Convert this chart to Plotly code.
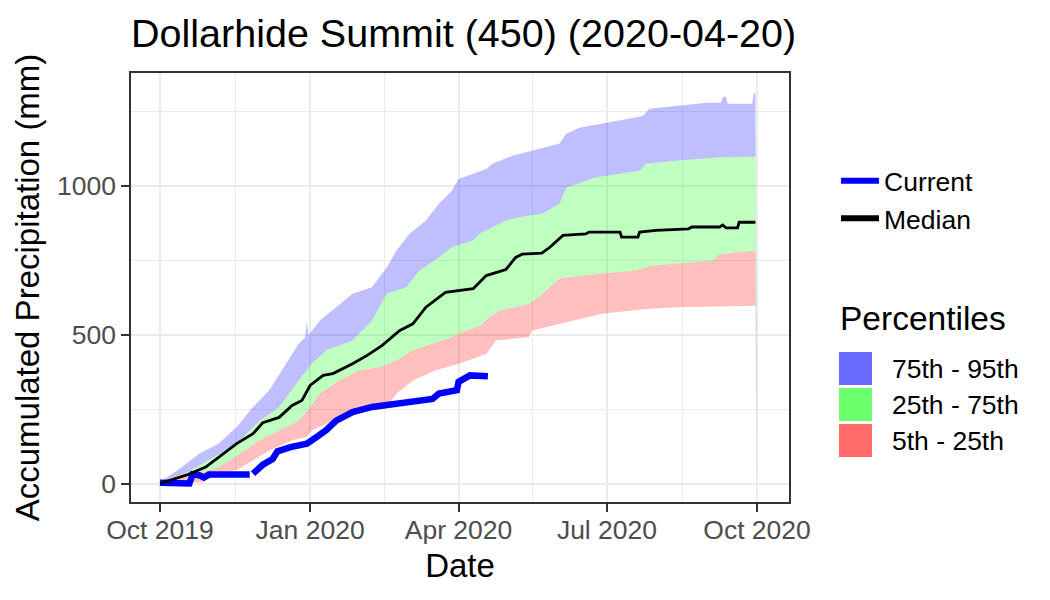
import plotly.graph_objects as go

# values (accumulated precipitation, mm)
p95_dates = ["2019-10-01", "2019-10-13", "2019-10-25", "2019-11-06", "2019-11-17", "2019-11-27",
             "2019-12-07", "2019-12-17", "2019-12-25", "2019-12-29", "2019-12-30", "2019-12-31",
             "2020-01-01", "2020-01-07", "2020-01-17", "2020-01-27", "2020-02-08", "2020-02-17",
             "2020-02-23", "2020-03-02", "2020-03-12", "2020-03-20", "2020-03-28", "2020-04-01",
             "2020-04-18", "2020-04-22", "2020-05-04", "2020-05-16", "2020-06-02", "2020-06-06",
             "2020-06-14", "2020-07-01", "2020-07-23", "2020-07-27", "2020-08-14", "2020-08-31",
             "2020-09-09", "2020-09-10", "2020-09-12", "2020-09-13", "2020-09-28", "2020-09-29",
             "2020-09-30", "2020-10-01"]
p95_vals = [5, 50, 100, 134, 190, 257, 313, 402, 469, 490, 545, 497, 504, 547, 592, 637, 659, 726,
            782, 838, 883, 939, 983, 1022, 1056, 1074, 1100, 1117, 1141, 1174, 1194, 1211, 1234,
            1258, 1268, 1278, 1278, 1298, 1298, 1275, 1275, 1308, 1310, 5]

p75_dates = ["2019-10-01", "2019-10-17", "2019-11-02", "2019-11-17", "2019-12-01", "2019-12-13",
             "2019-12-25", "2020-01-02", "2020-01-11", "2020-01-27", "2020-02-08", "2020-02-17",
             "2020-02-29", "2020-03-08", "2020-03-20", "2020-03-28", "2020-04-10", "2020-04-14",
             "2020-04-22", "2020-04-30", "2020-05-13", "2020-05-22", "2020-06-02", "2020-06-06",
             "2020-06-24", "2020-07-21", "2020-07-25", "2020-08-14", "2020-09-08", "2020-09-30",
             "2020-10-01"]
p75_vals = [3, 35, 85, 134, 211, 256, 346, 402, 447, 480, 547, 637, 659, 715, 759, 793, 816, 838,
            860, 883, 899, 905, 939, 993, 1027, 1050, 1073, 1084, 1095, 1097, 3]

p25_dates = ["2019-10-01", "2019-10-21", "2019-11-06", "2019-11-19", "2019-12-01", "2019-12-13",
             "2019-12-25", "2020-01-01", "2020-01-07", "2020-01-19", "2020-01-31", "2020-02-13",
             "2020-02-23", "2020-03-04", "2020-03-16", "2020-03-28", "2020-04-01", "2020-04-14",
             "2020-04-20", "2020-04-26", "2020-05-14", "2020-05-20", "2020-06-02", "2020-06-26",
             "2020-07-19", "2020-07-29", "2020-09-04", "2020-09-08", "2020-09-30", "2020-10-01"]
p25_vals = [0, 28, 55, 100, 145, 178, 211, 256, 302, 346, 380, 391, 413, 447, 469, 491, 503, 530,
            558, 580, 603, 625, 688, 704, 715, 732, 749, 770, 782, 0]

p5_dates = ["2019-10-01", "2019-10-27", "2019-11-06", "2019-11-17", "2019-11-27", "2019-12-07",
            "2019-12-21", "2019-12-30", "2020-01-02", "2020-01-15", "2020-01-27", "2020-02-08",
            "2020-02-17", "2020-02-23", "2020-03-04", "2020-03-18", "2020-04-01", "2020-04-18",
            "2020-04-24", "2020-05-14", "2020-05-16", "2020-06-02", "2020-06-28", "2020-07-25",
            "2020-08-14", "2020-09-30", "2020-10-01"]
p5_vals = [0, 4, 35, 45, 78, 111, 145, 156, 178, 211, 235, 246, 256, 302, 346, 380, 402, 435, 480,
           491, 514, 536, 570, 586, 592, 597, 0]

median_dates = ["2019-10-01", "2019-10-17", "2019-10-29", "2019-11-06", "2019-11-17", "2019-11-27",
                "2019-12-03", "2019-12-13", "2019-12-21", "2019-12-27", "2020-01-01", "2020-01-09",
                "2020-01-15", "2020-01-27", "2020-02-05", "2020-02-14", "2020-02-25", "2020-03-04",
                "2020-03-12", "2020-03-24", "2020-04-10", "2020-04-18", "2020-04-30", "2020-05-06",
                "2020-05-10", "2020-05-22", "2020-05-27", "2020-06-04", "2020-06-18", "2020-06-20",
                "2020-07-09", "2020-07-10", "2020-07-20", "2020-07-21", "2020-07-31", "2020-08-20",
                "2020-08-22", "2020-09-08", "2020-09-10", "2020-09-12", "2020-09-19", "2020-09-20",
                "2020-09-30"]
median_vals = [0, 28, 55, 89, 134, 167, 204, 222, 262, 279, 329, 363, 369, 402, 430, 463, 514, 536,
               592, 642, 654, 698, 718, 759, 770, 773, 793, 833, 838, 844, 844, 827, 827, 844, 850,
               855, 861, 861, 868, 858, 858, 877, 877]

current_dates = ["2019-10-01", "2019-10-14", "2019-10-16", "2019-10-19", "2019-10-21", "2019-10-25",
                 "2019-10-28", "2019-10-31", "2019-11-25", "2019-11-26", "2019-11-27", "2019-12-03",
                 "2019-12-09", "2019-12-12", "2019-12-20", "2019-12-30", "2020-01-05", "2020-01-11",
                 "2020-01-17", "2020-01-27", "2020-02-08", "2020-02-23", "2020-03-08", "2020-03-16",
                 "2020-03-20", "2020-03-31", "2020-04-01", "2020-04-08", "2020-04-19"]
current_vals = [3, 3, 0, 0, 31, 28, 20, 30, 30, None, 33, 63, 82, 108, 122, 134, 156, 180, 211, 240,
                257, 268, 273, 284, 302, 313, 341, 363, 360]

tick_dates = ["2019-10-01", "2020-01-01", "2020-04-01", "2020-07-01", "2020-10-01"]
tick_labels = ["Oct 2019", "Jan 2020", "Apr 2020", "Jul 2020", "Oct 2020"]
minor_dates = ["2019-11-16", "2020-02-15 12:00", "2020-05-16 12:00", "2020-08-16"]

band_names = ["75th - 95th", "25th - 75th", "5th - 25th"]
band_keys = ["#6b6bff", "#6bff6b", "#ff6b6b"]

FONT = "Liberation Sans, Arial, sans-serif"
L, R, T, B = 131, 261, 73, 98
W, H = 1050, 600


def to_paper(px, py):
    # pixel position on the page -> paper coordinates of the plot area
    return (px - L) / (W - L - R), (H - B - py) / (H - T - B)


fig = go.Figure()

ribbon = dict(mode="lines", line=dict(width=0), hoverinfo="skip", showlegend=False)
fig.add_trace(go.Scatter(x=p5_dates, y=p5_vals, **ribbon))
fig.add_trace(go.Scatter(x=p25_dates, y=p25_vals, fill="tonexty",
                         fillcolor="rgba(255,0,0,0.25)", **ribbon))
fig.add_trace(go.Scatter(x=p75_dates, y=p75_vals, fill="tonexty",
                         fillcolor="rgba(0,255,0,0.25)", **ribbon))
fig.add_trace(go.Scatter(x=p95_dates, y=p95_vals, fill="tonexty",
                         fillcolor="rgba(0,0,255,0.25)", **ribbon))

fig.add_trace(go.Scatter(x=current_dates, y=current_vals, mode="lines", name="Current",
                         legendgroup="cur", showlegend=False,
                         line=dict(color="#0000ff", width=6.5), connectgaps=False))
fig.add_trace(go.Scatter(x=median_dates, y=median_vals, mode="lines", name="Median",
                         legendgroup="med", showlegend=False,
                         line=dict(color="#000000", width=2.8)))
# legend keys with the thick ggplot-style strokes
fig.add_trace(go.Scatter(x=[None], y=[None], mode="lines", name="Current", legendgroup="cur",
                         line=dict(color="#0000ff", width=6)))
fig.add_trace(go.Scatter(x=[None], y=[None], mode="lines", name="Median", legendgroup="med",
                         line=dict(color="#000000", width=6)))

axis_common = dict(
    showgrid=True, gridcolor="#ebebeb", gridwidth=2.2,
    showline=True, linecolor="#333333", linewidth=1.6, mirror=True,
    ticks="outside", ticklen=8, tickwidth=2, tickcolor="#333333",
    tickfont=dict(family=FONT, size=26.5, color="#4d4d4d"),
    zeroline=False,
)

fig.update_xaxes(
    type="date", range=["2019-09-13 05:00", "2020-10-20 14:00"],
    tickvals=tick_dates, ticktext=tick_labels, ticklabelstandoff=-5,
    minor=dict(tickvals=minor_dates, showgrid=True, gridcolor="#ebebeb", gridwidth=1.1, ticks=""),
    title=dict(text="Date", font=dict(family=FONT, size=33, color="#000000"), standoff=10),
    **axis_common,
)
fig.update_yaxes(
    range=[-62, 1378], tickvals=[0, 500, 1000],
    minor=dict(tickvals=[250, 750, 1250], showgrid=True, gridcolor="#ebebeb", gridwidth=1.1, ticks=""),
    title=dict(text="Accumulated Precipitation (mm)", font=dict(family=FONT, size=33, color="#000000"),
               standoff=7),
    **axis_common,
)

lx, ly = to_paper(836, 157)
fig.update_layout(
    width=W, height=H,
    margin=dict(l=L, r=R, t=T, b=B),
    paper_bgcolor="white", plot_bgcolor="white",
    title=dict(text="Dollarhide Summit (450) (2020-04-20)", x=0, xref="paper", xanchor="left",
               y=1 - 33 / H, yref="container", yanchor="middle",
               font=dict(family=FONT, size=39.5, color="#000000")),
    legend=dict(x=lx, y=ly, xanchor="left", yanchor="top", traceorder="normal", itemwidth=38,
                font=dict(family=FONT, size=26.5, color="#000000"),
                bgcolor="rgba(0,0,0,0)", tracegroupgap=0),
    showlegend=True,
)

# percentile key, drawn the way ggplot lays it out
tx, ty = to_paper(838, 318)
fig.add_annotation(x=tx, y=ty, xref="paper", yref="paper", text="Percentiles", showarrow=False,
                   xanchor="left", yanchor="middle", font=dict(family=FONT, size=33.5, color="#000000"))
for i, (name, col) in enumerate(zip(band_names, band_keys)):
    top = 352 + i * 36
    x0, y0 = to_paper(839, top)
    x1, y1 = to_paper(872, top + 33)
    fig.add_shape(type="rect", xref="paper", yref="paper", x0=x0, x1=x1, y0=y1, y1=y0,
                  fillcolor=col, line=dict(width=0))
    ax, ay = to_paper(890, top + 16.5)
    fig.add_annotation(x=ax, y=ay, xref="paper", yref="paper", text=name, showarrow=False,
                       xanchor="left", yanchor="middle", font=dict(family=FONT, size=26.5, color="#000000"))

# the page must start at the very corner, like the reference image
fig.write_html("out.html", config={"displayModeBar": False},
               post_script="document.body.style.margin = '0px';")
